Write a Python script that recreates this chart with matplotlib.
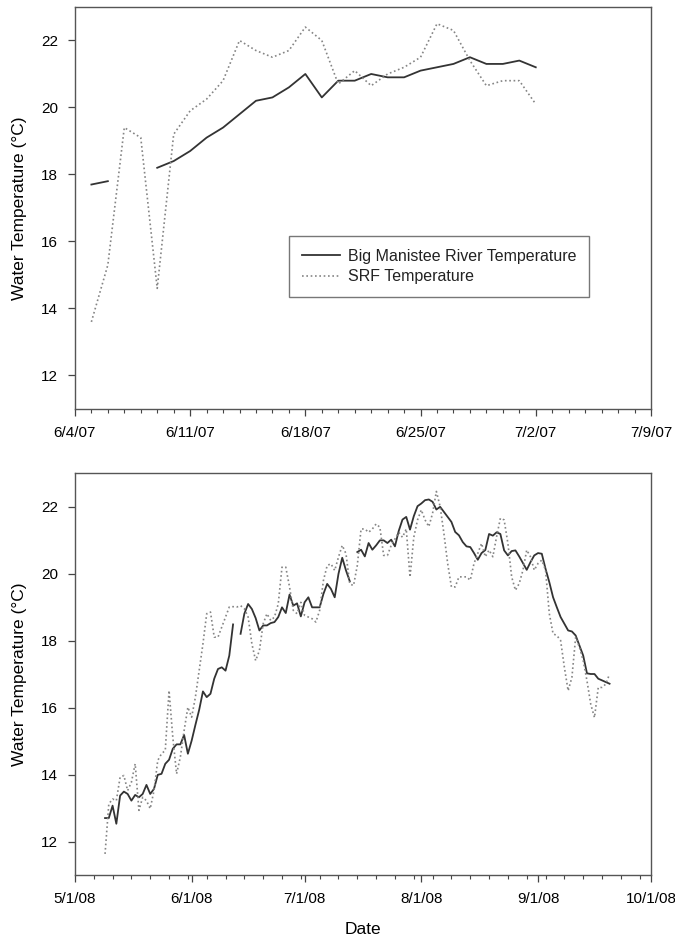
import numpy as np
import pandas as pd
import matplotlib
matplotlib.use('Agg')
import matplotlib.pyplot as plt
import matplotlib.dates as mdates
from matplotlib.ticker import FixedLocator, FuncFormatter

nan = np.nan

# 2007 panel: daily values from 6/5/07
top_start = '2007-06-05'
big_2007 = [17.7, 17.8, nan, nan, 18.2, 18.4, 18.7, 19.1, 19.4, 19.8,
            20.2, 20.3, 20.6, 21.0, 20.3, 20.8, 20.8, 21.0, 20.9, 20.9,
            21.1, 21.2, 21.3, 21.5, 21.3, 21.3, 21.4, 21.2]
srf_2007 = [13.6, 15.3, 19.4, 19.1, 14.6, 19.2, 19.9, 20.25, 20.8, 22.0,
            21.7, 21.5, 21.7, 22.4, 22.0, 20.7, 21.1, 20.65, 21.0, 21.2,
            21.5, 22.5, 22.3, 21.4, 20.65, 20.8, 20.8, 20.1]

# 2008 panel: daily values from 5/9/08
bot_start = '2008-05-09'
big_2008 = [12.70, 12.70, 13.07, 12.53, 13.37, 13.49, 13.42, 13.22, 13.39, 13.32,
            13.42, 13.69, 13.42, 13.57, 13.99, 14.02, 14.32, 14.44, 14.77, 14.90,
            14.90, 15.18, 14.62, 15.01, 15.48, 15.93, 16.48, 16.31, 16.41, 16.86,
            17.15, 17.20, 17.10, 17.55, 18.48, nan, 18.20, 18.80, 19.09, 18.94,
            18.67, 18.30, 18.45, 18.45, 18.52, 18.55, 18.70, 18.99, 18.82, 19.37,
            19.04, 19.11, 18.72, 19.14, 19.29, 18.99, 18.99, 18.99, 19.39, 19.69,
            19.54, 19.29, 19.99, 20.47, 20.09, 19.77, nan, 20.64, 20.71, 20.51,
            20.91, 20.71, 20.84, 20.99, 20.99, 20.91, 21.01, 20.81, 21.27, 21.61,
            21.69, 21.31, 21.71, 22.01, 22.09, 22.19, 22.21, 22.14, 21.91, 21.99,
            21.84, 21.69, 21.54, 21.24, 21.14, 20.94, 20.81, 20.79, 20.61, 20.41,
            20.61, 20.70, 21.18, 21.13, 21.23, 21.18, 20.69, 20.54, 20.67, 20.69,
            20.51, 20.31, 20.11, 20.34, 20.54, 20.61, 20.59, 20.14, 19.74, 19.29,
            18.99, 18.70, 18.50, 18.30, 18.27, 18.15, 17.85, 17.55, 17.02, 17.00,
            17.00, 16.86, 16.81, 16.76, 16.71]
srf_2008 = [11.63, 13.12, 13.27, 13.22, 13.92, 13.97, 13.52, 13.77, 14.32, 12.93,
            13.32, 13.22, 12.98, 13.52, 14.42, 14.62, 14.72, 16.51, 15.11, 14.02,
            14.52, 15.31, 16.01, 15.71, 16.31, 17.10, 17.90, 18.80, 18.85, 18.10,
            18.10, 18.40, 18.70, 19.00, 19.01, 19.00, 19.04, 18.95, 18.70, 17.90,
            17.40, 17.70, 18.50, 18.80, 18.60, 18.70, 19.09, 20.19, 20.19, 19.60,
            18.90, 18.80, 19.14, 18.75, 18.70, 18.65, 18.55, 18.90, 19.79, 20.24,
            20.29, 20.09, 20.49, 20.84, 20.59, 19.69, 19.64, 20.24, 21.33, 21.33,
            21.23, 21.33, 21.48, 21.38, 20.54, 20.54, 20.84, 21.03, 21.23, 21.08,
            21.33, 19.89, 21.08, 21.60, 21.90, 21.60, 21.40, 21.80, 22.45, 22.00,
            21.20, 20.30, 19.60, 19.60, 19.90, 19.90, 19.90, 19.80, 20.30, 20.60,
            20.90, 20.50, 20.70, 20.50, 21.10, 21.65, 21.60, 20.90, 19.90, 19.50,
            19.70, 20.10, 20.70, 20.50, 20.10, 20.30, 20.40, 20.10, 18.80, 18.20,
            18.15, 18.00, 17.20, 16.50, 16.90, 18.10, 17.80, 17.40, 16.80, 16.10,
            15.70, 16.60, 16.60, 16.70, 17.00]

y_ticks = [12, 14, 16, 18, 20, 22]

plt.rcParams['font.family'] = ['Liberation Sans', 'DejaVu Sans']
plt.rcParams['text.color'] = '#222222'

fig = plt.figure(figsize=(6.75, 9.43), dpi=100)
ax1 = fig.add_axes([0.111, 0.5663, 0.8534, 0.4263])
ax2 = fig.add_axes([0.111, 0.0721, 0.8534, 0.4263])

solid_kw = dict(color='#333333', linewidth=1.3, linestyle='-')
dot_kw = dict(color='#858585', linewidth=1.2, linestyle=(0, (1, 1.6)))

d1 = pd.date_range(top_start, periods=len(big_2007), freq='D')
ax1.plot(d1, big_2007, label='Big Manistee River Temperature', **solid_kw)
ax1.plot(d1, srf_2007, label='SRF Temperature', **dot_kw)

d2 = pd.date_range(bot_start, periods=len(big_2008), freq='D')
ax2.plot(d2, big_2008, **solid_kw)
ax2.plot(d2, srf_2008, **dot_kw)


def date_fmt(x, pos):
    d = mdates.num2date(x)
    return f"{d.month}/{d.day}/{d.strftime('%y')}"


# x axes
ax1.set_xlim(pd.Timestamp('2007-06-04'), pd.Timestamp('2007-07-09'))
ax1.xaxis.set_major_locator(FixedLocator(mdates.date2num(pd.date_range('2007-06-04', '2007-07-09', freq='7D'))))
ax1.xaxis.set_minor_locator(FixedLocator(mdates.date2num(pd.date_range('2007-06-04', '2007-07-09', freq='D'))))
ax1.xaxis.set_major_formatter(FuncFormatter(date_fmt))

ax2.set_xlim(pd.Timestamp('2008-05-01'), pd.Timestamp('2008-10-01'))
ax2.xaxis.set_major_locator(FixedLocator(mdates.date2num(pd.date_range('2008-05-01', '2008-10-01', freq='MS'))))
ax2.xaxis.set_minor_locator(FixedLocator(mdates.date2num(pd.date_range('2008-05-01', '2008-10-01', freq='5D'))))
ax2.xaxis.set_major_formatter(FuncFormatter(date_fmt))
ax2.set_xlabel('Date', fontsize=12.5, labelpad=12)

for ax in (ax1, ax2):
    ax.set_ylim(11, 23)
    ax.set_yticks(y_ticks)
    ax.set_ylabel('Water Temperature (\u00b0C)', fontsize=12.5, labelpad=10)
    ax.tick_params(axis='both', which='major', direction='out', length=5,
                   width=0.9, color='#444444', labelsize=11, pad=7)
    ax.tick_params(axis='x', which='minor', direction='out', length=3,
                   width=0.8, color='#444444')
    for s in ax.spines.values():
        s.set_color('#555555')
        s.set_linewidth(1.0)

leg = ax1.legend(loc='upper left', bbox_to_anchor=(0.366, 0.438), fontsize=11.5,
                 frameon=True, fancybox=False, edgecolor='#555555',
                 handlelength=2.4, handletextpad=0.5, borderpad=0.8,
                 labelspacing=0.35, borderaxespad=0.2)
leg.get_frame().set_linewidth(1.0)

fig.savefig('out.png', dpi=100)
